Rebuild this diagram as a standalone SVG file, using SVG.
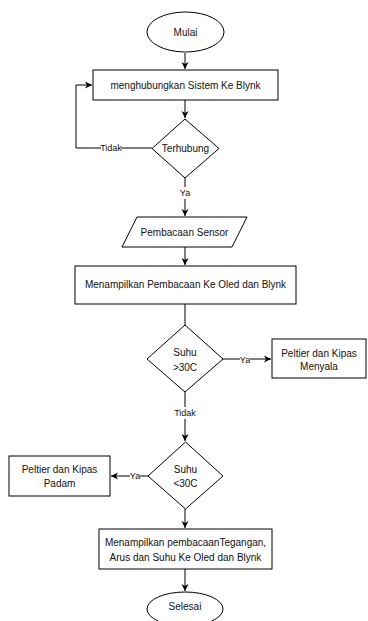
<svg xmlns="http://www.w3.org/2000/svg" width="368" height="621" viewBox="0 0 368 621">
<style>
.s{fill:#fff;stroke:#000;stroke-width:1}
.t{font-family:"Liberation Sans",Arial,sans-serif;font-size:10px;fill:#111;text-anchor:middle;dominant-baseline:central}
.l{font-family:"Liberation Sans",Arial,sans-serif;font-size:9px;fill:#111;text-anchor:middle;dominant-baseline:central}
.c{fill:none;stroke:#000;stroke-width:1}
</style>
<defs>
<marker id="a" markerWidth="8" markerHeight="8" refX="7" refY="4" orient="auto" markerUnits="userSpaceOnUse">
<path d="M0,0.5 L7,4 L0,7.5 L2,4 Z" fill="#000"/>
</marker>
</defs>
<rect width="368" height="621" fill="#fff"/>
<g id="connectors">
<path class="c" d="M185,53 V69" marker-end="url(#a)"/>
<path class="c" d="M185,100 V118" marker-end="url(#a)"/>
<path class="c" d="M152,148 H76 V85 H92" marker-end="url(#a)"/>
<path class="c" d="M185,178 V216" marker-end="url(#a)"/>
<path class="c" d="M185,247 V265" marker-end="url(#a)"/>
<path class="c" d="M185,304 V325"/>
<path class="c" d="M223,359 H271" marker-end="url(#a)"/>
<path class="c" d="M185,392 V441" marker-end="url(#a)"/>
<path class="c" d="M148,476 H111" marker-end="url(#a)"/>
<path class="c" d="M185,509 V528" marker-end="url(#a)"/>
<path class="c" d="M185,569 V591" marker-end="url(#a)"/>
<rect x="101" y="142" width="20" height="12" fill="#fff"/>
<text class="l" x="111" y="148">Tidak</text>
<rect x="179" y="187" width="12" height="12" fill="#fff"/>
<text class="l" x="185" y="193">Ya</text>
<rect x="240" y="353" width="10" height="12" fill="#fff"/>
<text class="l" x="245" y="360">Ya</text>
<rect x="175" y="407" width="20" height="12" fill="#fff"/>
<text class="l" x="185" y="413">Tidak</text>
<rect x="130" y="470" width="10" height="12" fill="#fff"/>
<text class="l" x="135" y="476">Ya</text>
</g>
<g id="mulai">
<ellipse class="s" cx="185.5" cy="32" rx="38.5" ry="20"/>
<text class="t" x="185.5" y="32">Mulai</text>
</g>
<g id="hubung">
<rect class="s" x="93" y="70" width="185" height="30"/>
<text class="t" x="185.5" y="85">menghubungkan Sistem Ke Blynk</text>
</g>
<g id="terhubung">
<polygon class="s" points="185,119 219,148.5 185,178 152,148.5"/>
<text class="t" x="185.5" y="148.5">Terhubung</text>
</g>
<g id="sensor">
<polygon class="s" points="137,217 247,217 232,247 122,247"/>
<text class="t" x="184.5" y="232">Pembacaan Sensor</text>
</g>
<g id="tampil1">
<rect class="s" x="75" y="266" width="221" height="38"/>
<text class="t" x="185.5" y="284.5">Menampilkan Pembacaan Ke Oled dan Blynk</text>
</g>
<g id="suhu30a">
<polygon class="s" points="185,325 223,359 185,392 147,359"/>
<text class="t" x="185" y="352">Suhu</text>
<text class="t" x="185" y="367">&gt;30C</text>
</g>
<g id="menyala">
<rect class="s" x="272" y="339" width="94" height="39"/>
<text class="t" x="319" y="353">Peltier dan Kipas</text>
<text class="t" x="319" y="366">Menyala</text>
</g>
<g id="suhu30b">
<polygon class="s" points="185.5,442 223,476 185.5,509 148,476"/>
<text class="t" x="185.5" y="469">Suhu</text>
<text class="t" x="185.5" y="483">&lt;30C</text>
</g>
<g id="padam">
<rect class="s" x="9" y="456" width="101" height="40"/>
<text class="t" x="59.5" y="469">Peltier dan Kipas</text>
<text class="t" x="59.5" y="483">Padam</text>
</g>
<g id="tampil2">
<rect class="s" x="99" y="529" width="173" height="40"/>
<text class="t" x="185.5" y="542">Menampilkan pembacaanTegangan,</text>
<text class="t" x="185.5" y="557">Arus dan Suhu Ke Oled dan Blynk</text>
</g>
<g id="selesai">
<ellipse class="s" cx="185" cy="609" rx="38" ry="17"/>
<text class="t" x="185" y="606">Selesai</text>
</g>
</svg>
